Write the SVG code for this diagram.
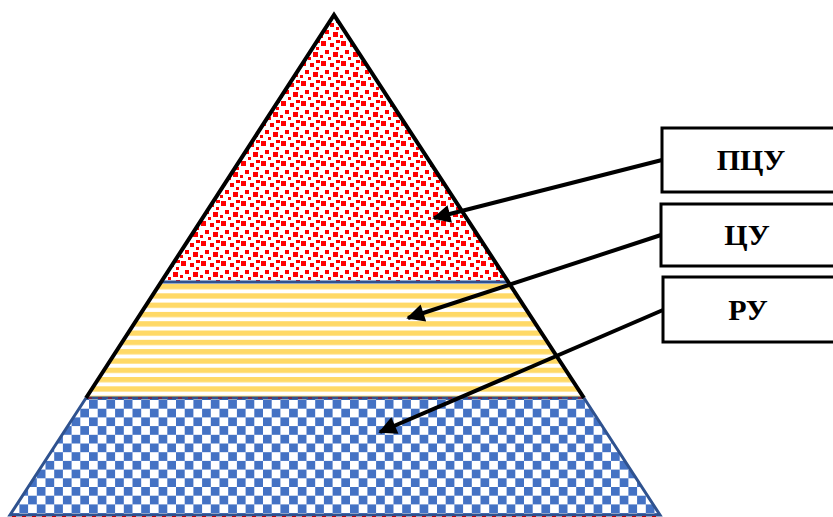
<svg xmlns="http://www.w3.org/2000/svg" width="833" height="517" viewBox="0 0 833 517">
  <defs>
    <pattern id="confetti" patternUnits="userSpaceOnUse" width="20" height="20">
      <rect width="20" height="20" fill="#ffffff"/>
      <g fill="#ff0000">
        <rect x="1" y="1" width="5" height="5"/>
        <rect x="10" y="3" width="4" height="4"/>
        <rect x="16" y="0" width="4" height="3"/>
        <rect x="5" y="10" width="4" height="4"/>
        <rect x="13" y="12" width="5" height="5"/>
        <rect x="0" y="15" width="3" height="3"/>
        <rect x="16" y="7" width="3" height="3"/>
        <rect x="8" y="17" width="3" height="3"/>
      </g>
    </pattern>
    <pattern id="stripes" patternUnits="userSpaceOnUse" width="20" height="9.3" y="284">
      <rect width="20" height="9.3" fill="#ffffff"/>
      <rect y="0" width="20" height="5.3" fill="#FFD966"/>
    </pattern>
    <pattern id="checker" patternUnits="userSpaceOnUse" width="17.4" height="17.4" x="2" y="400">
      <rect width="17.4" height="17.4" fill="#ffffff"/>
      <rect x="0" y="0" width="8.7" height="8.7" fill="#4472C4"/>
      <rect x="8.7" y="8.7" width="8.7" height="8.7" fill="#4472C4"/>
    </pattern>
    <marker id="arrow" viewBox="0 0 10 10" refX="9" refY="5" markerWidth="5.5" markerHeight="4.5" markerUnits="strokeWidth" orient="auto">
      <path d="M0,0 L10,5 L0,10 z" fill="#000"/>
    </marker>
    <style>
      .box { fill: #ffffff; stroke: #000; stroke-width: 3; }
      .lbl { font-family: "Liberation Serif", "Times New Roman", serif; font-weight: bold; font-size: 30px; fill: #000; text-anchor: middle; }
      .conn { stroke: #000; stroke-width: 4; fill: none; marker-end: url(#arrow); }
      .navy { stroke: #2F528F; stroke-width: 3; fill: none; }
    </style>
  </defs>

  <g id="pyramid">
    <polygon id="layer-top" points="334,15 161,282 508,282" fill="url(#confetti)"/>
    <polygon id="layer-mid" points="161,282 508,282 584,398 86,398" fill="url(#stripes)"/>
    <polygon id="layer-bottom" points="86,398 584,398 660,515 10,515" fill="url(#checker)"/>
    <path class="navy" d="M161,282 H508"/>
    <path class="navy" d="M86,398 H584"/>
    <path d="M88,398 H582" stroke="#C00000" stroke-width="1" stroke-dasharray="4,6" fill="none"/>
    <path class="navy" d="M86,398 L10,515 H660 L584,398"/>
    <path d="M12,515 H658" stroke="#C00000" stroke-width="1" stroke-dasharray="4,6" fill="none" transform="translate(0,1.5)"/>
    <path d="M86,398 L334,15 L584,398" stroke="#000" stroke-width="4" fill="none" stroke-linejoin="miter"/>
  </g>

  <g id="node-pcu">
    <rect class="box" x="662" y="128" width="180" height="64"/>
    <text class="lbl" x="751" y="170">ПЦУ</text>
  </g>
  <g id="node-cu">
    <rect class="box" x="661" y="204" width="180" height="62"/>
    <text class="lbl" x="747" y="245">ЦУ</text>
  </g>
  <g id="node-ru">
    <rect class="box" x="663" y="277" width="180" height="65"/>
    <text class="lbl" x="748" y="320">РУ</text>
  </g>

  <g id="connectors">
    <line class="conn" x1="662" y1="160" x2="434" y2="218"/>
    <line class="conn" x1="661" y1="235" x2="408" y2="318"/>
    <line class="conn" x1="663" y1="310" x2="380" y2="432"/>
  </g>
</svg>
